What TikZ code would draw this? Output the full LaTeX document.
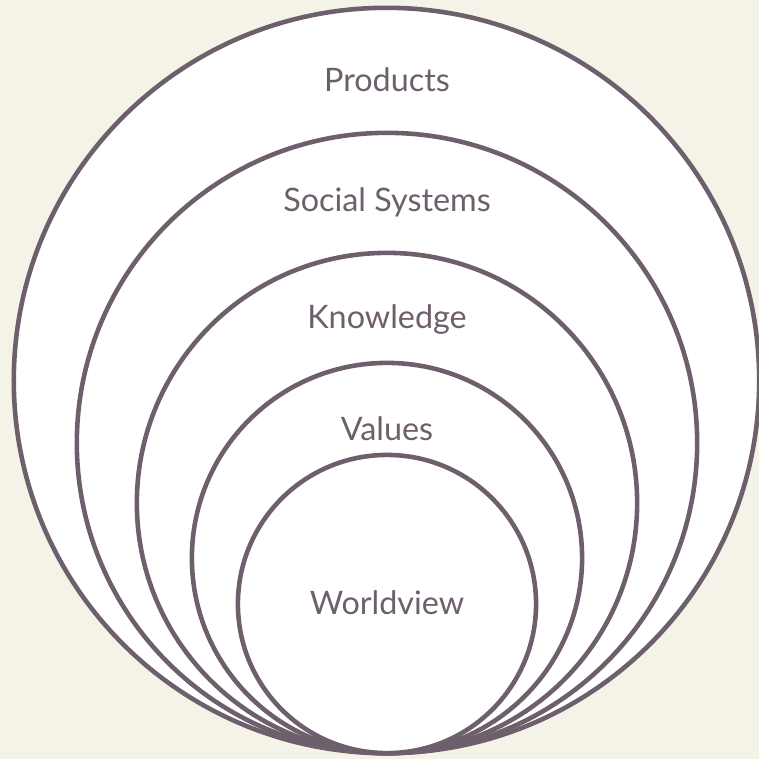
\documentclass[tikz,border=0pt]{standalone}
\usepackage{fontspec}
\setmainfont{Lato}
\definecolor{ringline}{HTML}{6E5F6C}
\definecolor{paper}{HTML}{F5F2E8}

\begin{document}
\begin{tikzpicture}[x=0.01cm,y=-0.01cm,
        ring/.style={draw=ringline,fill=white,line width=1.3pt},
        lbl/.style={text=ringline,font=\fontsize{9.2}{11}\selectfont}]
        \fill[paper] (0,0) rectangle (759,759);
        \useasboundingbox (0,0) rectangle (759,759);
        \draw[ring] (386.5,380.5) circle (3.725cm);
        \draw[ring] (387,443) circle (3.10cm);
        \draw[ring] (387,503) circle (2.50cm);
        \draw[ring] (387,558) circle (1.95cm);
        \draw[ring] (387,604) circle (1.49cm);
        \node[lbl] (products) at (387,80) {Products};
        \node[lbl] (social) at (387,202) {Social Systems};
        \node[lbl] (knowledge) at (387,320) {Knowledge};
        \node[lbl] (values) at (387,429) {Values};
        \node[lbl] (worldview) at (387,603) {Worldview};
\end{tikzpicture}
\end{document}
